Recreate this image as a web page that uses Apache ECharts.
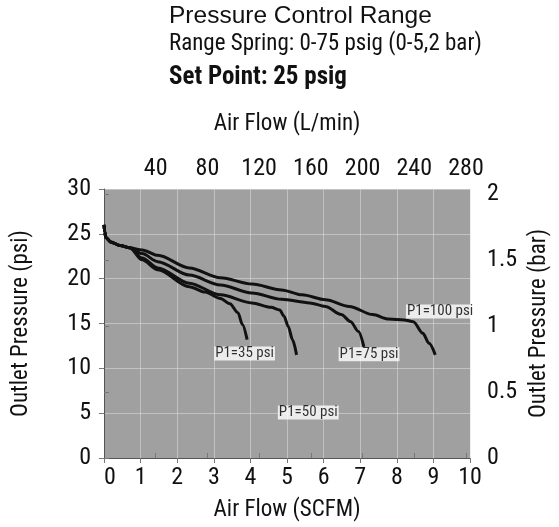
<!DOCTYPE html>
<html><head><meta charset="utf-8">
<script src="https://cdn.jsdelivr.net/npm/echarts@6/dist/echarts.min.js"></script>
<style>html,body{margin:0;padding:0;background:#fff}#c{width:559px;height:527px}</style>
</head><body><div id="c"></div>
<script>
// Outlet pressure (psi) vs air flow (SCFM) for several inlet pressures
const startFlow = [0, 0.02, 0.05, 0.18, 0.44, 0.70];
const startPress = [26.0, 25.2, 24.6, 24.1, 23.7, 23.45];

const flow100 = [1.04, 1.47, 2.33, 3.18, 4.04, 4.85, 5.41, 6.05, 6.70, 7.34, 7.77, 8.20, 8.45, 8.71, 8.88, 9.05];
const press100 = [23.2, 22.6, 21.2, 20.1, 19.4, 18.75, 18.2, 17.65, 16.9, 16.0, 15.5, 15.4, 15.2, 13.9, 12.8, 11.5];

const flow75 = [1.04, 1.47, 2.33, 3.18, 4.04, 4.85, 5.62, 6.05, 6.48, 6.74, 6.95, 7.10];
const press75 = [22.8, 21.9, 20.4, 19.3, 18.4, 17.7, 17.3, 16.9, 16.0, 15.2, 14.1, 12.4];

const flow50 = [1.04, 1.47, 2.33, 3.18, 4.04, 4.56, 4.80, 4.92, 5.03, 5.15, 5.26];
const press50 = [22.3, 21.2, 19.5, 18.2, 17.3, 16.8, 16.5, 15.8, 14.7, 13.2, 11.5];

const flow35 = [1.04, 1.47, 2.33, 2.76, 3.18, 3.44, 3.66, 3.78, 3.91];
const press35 = [22.1, 21.0, 19.1, 18.5, 17.8, 17.2, 16.2, 14.9, 13.2];

const curveNames = ['P1=100 psi', 'P1=75 psi', 'P1=50 psi', 'P1=35 psi'];
const labelNames = ['P1=35 psi', 'P1=50 psi', 'P1=75 psi', 'P1=100 psi'];
const labelFlow = [3.84, 5.58, 7.24, 9.18];
const labelPress = [11.65, 5.07, 11.56, 16.33];

const titleLines = ['Pressure Control Range', 'Range Spring: 0-75 psig (0-5,2 bar)', 'Set Point: 25 psig'];

const NARROW = '"Roboto Condensed", Roboto, sans-serif';
const SCFM_TO_LMIN = 28.317;
const PSI_PER_BAR = 14.7;

function zip(xs, ys) { return xs.map((x, i) => [x, ys[i]]); }
function curve(fx, py) { return zip(startFlow.concat(fx), startPress.concat(py)); }

const curves = [curve(flow100, press100), curve(flow75, press75), curve(flow50, press50), curve(flow35, press35)];

const chart = echarts.init(document.getElementById('c'), null, {renderer: 'canvas'});
const axisLineStyle = {color: '#555', width: 1};
const tickStyle = {color: '#777', width: 1};
const gridLine = {show: true, lineStyle: {color: 'rgba(228,228,228,0.5)', width: 1}};
const tickFont = {fontFamily: NARROW, fontSize: 24, color: '#111'};
const nameFont = {fontFamily: NARROW, fontSize: 23, color: '#111'};

chart.setOption({
  animation: false,
  backgroundColor: '#fff',
  title: [
    {text: titleLines[0], left: 169, top: 4, padding: 0, textStyle: {fontFamily: '"Liberation Sans", Arial, sans-serif', fontSize: 24.5, fontWeight: 'normal', color: '#111'}},
    {text: titleLines[1], left: 169, top: 33, padding: 0, textStyle: {fontFamily: NARROW, fontSize: 23, fontWeight: 'normal', color: '#111'}},
    {text: titleLines[2], left: 169, top: 65, padding: 0, textStyle: {fontFamily: NARROW, fontSize: 25, fontWeight: 'bold', color: '#111'}}
  ],
  grid: {left: 104, right: 66, top: 189, bottom: 69, show: true, backgroundColor: '#a0a0a0', borderWidth: 0, containLabel: false},
  xAxis: [
    {type: 'value', position: 'bottom', min: 0, max: 10, interval: 1,
     name: 'Air Flow (SCFM)', nameLocation: 'middle', nameGap: 41, nameTextStyle: nameFont,
     axisLine: {show: true, lineStyle: axisLineStyle},
     axisTick: {show: true, inside: false, length: 5, lineStyle: tickStyle},
     axisLabel: Object.assign({margin: 8,
       formatter: v => v === 0 ? '{z|0}' : String(v),
       rich: {z: Object.assign({padding: [0, 0, 0, 12]}, tickFont)}}, tickFont),
     splitLine: gridLine},
    {type: 'value', position: 'top', min: 0, max: 10 * SCFM_TO_LMIN, interval: 40,
     name: 'Air Flow (L/min)', nameLocation: 'middle', nameGap: 53, nameTextStyle: nameFont,
     axisLine: {show: true, lineStyle: axisLineStyle},
     axisTick: {show: true, inside: false, length: 5, lineStyle: tickStyle},
     axisLabel: Object.assign({margin: 8, showMinLabel: false, showMaxLabel: false}, tickFont),
     splitLine: {show: false}}
  ],
  yAxis: [
    {type: 'value', position: 'left', min: 0, max: 30, interval: 5,
     name: 'Outlet Pressure (psi)', nameLocation: 'middle', nameGap: 71, nameRotate: 90, nameTextStyle: nameFont,
     axisLine: {show: true, lineStyle: axisLineStyle},
     axisTick: {show: true, inside: false, length: 5, lineStyle: tickStyle},
     axisLabel: Object.assign({margin: 13}, tickFont),
     splitLine: gridLine},
    {type: 'value', position: 'right', min: 0, max: 30 / PSI_PER_BAR, interval: 0.5,
     name: 'Outlet Pressure (bar)', nameLocation: 'middle', nameGap: 44, nameRotate: 90, nameTextStyle: nameFont,
     axisLine: {show: false},
     axisTick: {show: true, inside: false, length: 5, lineStyle: tickStyle},
     axisLabel: Object.assign({margin: 17, showMaxLabel: false}, tickFont),
     splitLine: {show: false}}
  ],
  series: curves.map((d, i) => ({
    type: 'line', name: curveNames[i], data: d, xAxisIndex: 0, yAxisIndex: 0,
    showSymbol: false, symbol: 'none', smooth: 0.3, smoothMonotone: 'x',
    lineStyle: {color: '#111', width: 3}, z: 3
  })).concat([{
    type: 'scatter', name: 'labels', xAxisIndex: 0, yAxisIndex: 0,
    data: zip(labelFlow, labelPress), symbolSize: 1, itemStyle: {color: 'rgba(0,0,0,0)'},
    label: {show: true, position: 'inside', formatter: p => labelNames[p.dataIndex],
      fontFamily: NARROW, fontSize: 15, lineHeight: 14, color: '#000', backgroundColor: '#fff', padding: [0, 1]},
    z: 5
  }])
});
</script></body></html>
